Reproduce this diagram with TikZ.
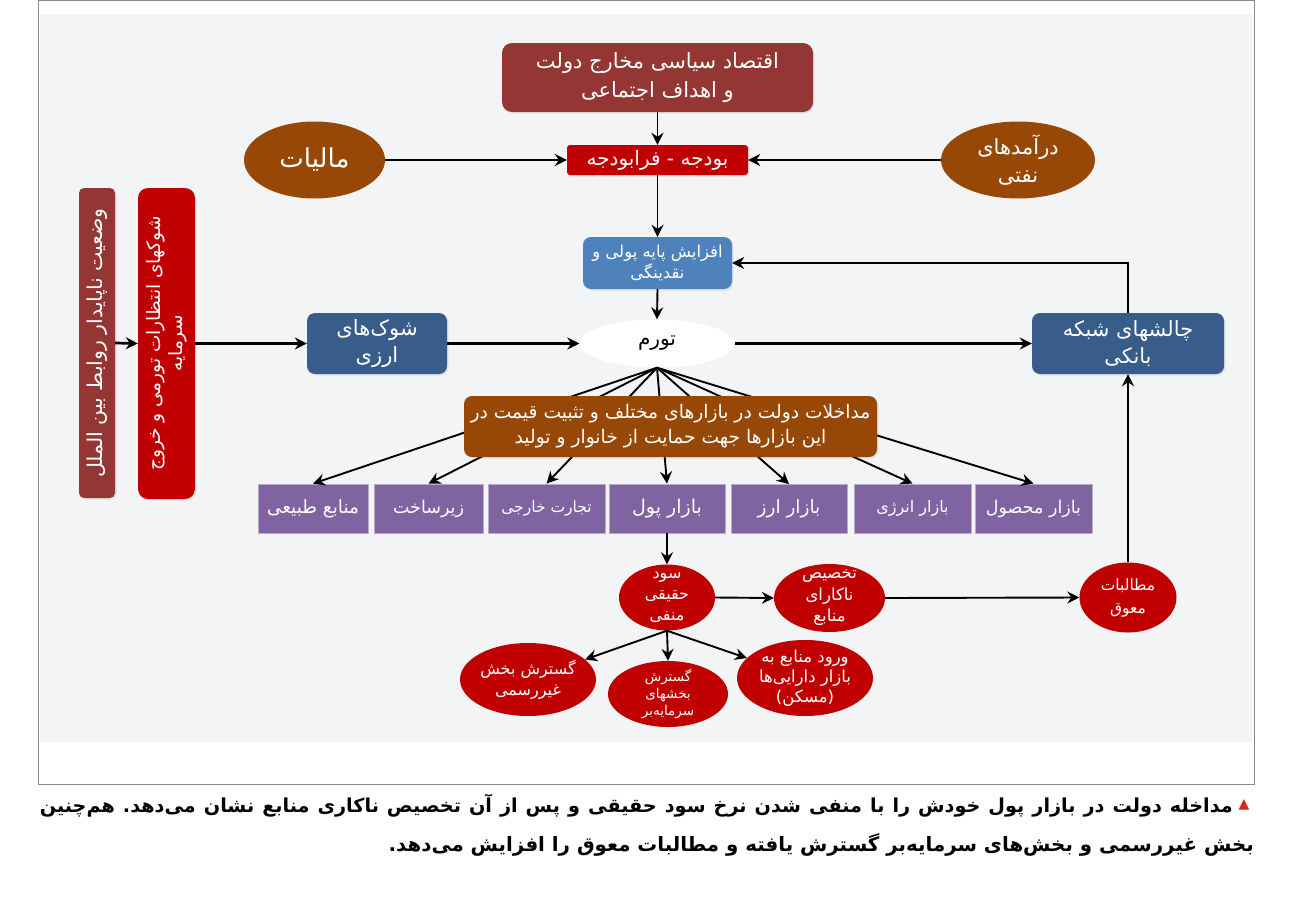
\documentclass[tikz,border=0pt]{standalone}
\usepackage{fontspec}
\setmainfont{DejaVu Sans}
\newfontfamily\arabicfont[Script=Arabic]{DejaVu Sans}
\TeXXeTstate=1
\frenchspacing
\usetikzlibrary{arrows.meta,shapes.geometric,shadows}
\newcommand{\FA}[1]{{\arabicfont\beginR #1\endR}}
\definecolor{cDarkRed}{HTML}{943634}
\definecolor{cRed}{HTML}{C00000}
\definecolor{cBrown}{HTML}{974806}
\definecolor{cBlue}{HTML}{4F81BD}
\definecolor{cNavy}{HTML}{385D8A}
\definecolor{cPurple}{HTML}{8064A2}
\definecolor{cBg}{HTML}{F3F4F6}
\definecolor{cFrame}{HTML}{8A8A8A}
\definecolor{cTri}{HTML}{D9261C}
\begin{document}
\begin{tikzpicture}[x=1pt,y=-1pt,
  box/.style={rectangle, rounded corners=8pt, text=white, inner sep=0pt, align=center,
    drop shadow={opacity=0.15,shadow xshift=1.5pt,shadow yshift=-1.5pt}},
  mkt/.style={rectangle, fill=cPurple, draw=cPurple!55!white, line width=0.8pt, text=white,
    minimum height=49pt, inner sep=0pt},
  oval/.style={ellipse, inner sep=0pt},
  lbl/.style={text=white, align=center, inner sep=0pt},
  arr/.style={-{Stealth[length=12pt,width=12pt,inset=4pt]}, line width=1.9pt},
  tarr/.style={-{Stealth[length=12pt,width=12pt,inset=4pt]}, line width=2.7pt}
]
\useasboundingbox (0,0) rectangle (1293,908);
\fill[white] (0,0) rectangle (1293,908);
\fill[cBg] (40,14) rectangle (1252,742);
\draw[cFrame, line width=0.8pt] (38,0.5) rectangle (1254,784);

% top
\node[box, fill=cDarkRed, rounded corners=10pt, minimum width=311pt, minimum height=69pt,
  font=\fontsize{21}{29}\selectfont] (top) at (657.5,77.5)
  {\FA{اقتصاد سیاسی مخارج دولت}\\\FA{و اهداف اجتماعی}};
\node[box, fill=cRed, rounded corners=3pt, minimum width=181pt, minimum height=30pt,
  font=\fontsize{20}{22}\selectfont] (budget) at (657.5,160) {\FA{بودجه - فرابودجه}};
\node[oval, fill=cBrown, minimum width=141pt, minimum height=77pt] (tax) at (314.5,160) {};
\node[lbl, font=\fontsize{26}{30}\selectfont] at (tax) {\FA{مالیات}};
\node[oval, fill=cBrown, minimum width=154pt, minimum height=77pt] (oil) at (1018,160) {};
\node[lbl, font=\fontsize{21}{28}\selectfont] at (oil) {\FA{درآمدهای}\\\FA{نفتی}};

\node[box, fill=cBlue, minimum width=149pt, minimum height=52pt,
  font=\fontsize{16.5}{21}\selectfont] (base) at (657.5,263) {\FA{افزایش پایه پولی و}\\\FA{نقدینگی}};
\node[oval, fill=white, minimum width=155pt, minimum height=48pt] (tavarom) at (657,343.5) {};
\node[lbl, text=black, font=\fontsize{20}{24}\selectfont] at (tavarom) {\FA{تورم}};

\node[box, fill=cNavy, minimum width=140pt, minimum height=61pt,
  font=\fontsize{21}{27}\selectfont] (shock) at (377,343.5) {\FA{شوک‌های}\\\FA{ارزی}};
\node[box, fill=cNavy, minimum width=192pt, minimum height=61pt,
  font=\fontsize{21}{27}\selectfont] (bank) at (1128,343.5) {\FA{چالشهای شبکه}\\\FA{بانکی}};

\node[box, fill=cDarkRed, rounded corners=5pt, rotate=90, minimum width=310pt, minimum height=36pt,
  font=\fontsize{20.5}{22}\selectfont] (intl) at (97,343) {\FA{وضعیت ناپایدار روابط بین الملل}};
\node[box, fill=cRed, rounded corners=10pt, rotate=90, minimum width=311pt, minimum height=57pt,
  font=\fontsize{18.5}{22}\selectfont] (expect) at (166.5,343.5)
  {\FA{شوکهای انتظارات تورمی و خروج}\\\FA{سرمایه}};

% markets
\node[mkt, minimum width=110pt, font=\fontsize{18.5}{20}\selectfont] (m1) at (313,508.5) {\FA{منابع طبیعی}};
\node[mkt, minimum width=109pt, font=\fontsize{17.5}{20}\selectfont] (m2) at (428.5,508.5) {\FA{زیرساخت}};
\node[mkt, minimum width=117pt, font=\fontsize{15.5}{18}\selectfont] (m3) at (546.5,508.5) {\FA{تجارت خارجی}};
\node[mkt, minimum width=116pt, font=\fontsize{19}{22}\selectfont] (m4) at (667,508.5) {\FA{بازار پول}};
\node[mkt, minimum width=116pt, font=\fontsize{18.5}{22}\selectfont] (m5) at (789,509) {\FA{بازار ارز}};
\node[mkt, minimum width=117pt, font=\fontsize{16}{20}\selectfont] (m6) at (912.5,508.5) {\FA{بازار انرژی}};
\node[mkt, minimum width=117pt, font=\fontsize{17.5}{20}\selectfont] (m7) at (1033.5,508.5) {\FA{بازار محصول}};

\foreach \m in {m1,m2,m3,m4,m5,m6,m7}
  \draw[arr] (tavarom.south) -- (\m.north);

\node[box, fill=cBrown, minimum width=413pt, minimum height=61pt,
  font=\fontsize{18.7}{25}\selectfont] (interv) at (670.5,426.5)
  {\FA{مداخلات دولت در بازارهای مختلف و تثبیت قیمت در}\\\FA{این بازارها جهت حمایت از خانوار و تولید}};

% red ellipses
\node[oval, fill=cRed, minimum width=96pt, minimum height=66pt] (sood) at (667,597.5) {};
\node[lbl, font=\fontsize{16}{21}\selectfont] at (sood) {\FA{سود}\\\FA{حقیقی}\\\FA{منفی}};
\node[oval, fill=cRed, minimum width=111pt, minimum height=68pt] (takhsis) at (829.5,598) {};
\node[lbl, font=\fontsize{16.5}{21.5}\selectfont] at (takhsis) {\FA{تخصیص}\\\FA{ناکارای}\\\FA{منابع}};
\node[oval, fill=cRed, minimum width=97pt, minimum height=70pt] (motal) at (1128,597.5) {};
\node[lbl, font=\fontsize{15.5}{23}\selectfont] at (motal) {\FA{مطالبات}\\\FA{معوق}};
\node[oval, fill=cRed, minimum width=136pt, minimum height=73pt] (g1) at (528,679.5) {};
\node[lbl, font=\fontsize{16}{21}\selectfont] at (g1) {\FA{گسترش بخش}\\\FA{غیررسمی}};
\node[oval, fill=cRed, minimum width=120pt, minimum height=66pt] (g2) at (668,694) {};
\node[lbl, font=\fontsize{13.5}{17}\selectfont] at (g2) {\FA{گسترش}\\\FA{بخشهای}\\\FA{سرمایه‌بر}};
\node[oval, fill=cRed, minimum width=136pt, minimum height=76pt] (g3) at (805,678) {};
\node[lbl, font=\fontsize{16.5}{20}\selectfont] at (g3) {\FA{ورود منابع به}\\\FA{بازار دارایی‌ها}\\\FA{(مسکن)}};

% connectors
\draw[arr] (top.south) -- (budget.north);
\draw[arr] (tax.east) -- (budget.west);
\draw[arr] (oil.west) -- (budget.east);
\draw[arr] (budget.south) -- (base.north);
\draw[arr] (base.south) -- (tavarom.north);
\draw[tarr] (tavarom.east) -- (bank.west);
\draw[tarr] (bank.north) |- (base.east);
\draw[tarr] (shock.east) -- (tavarom.west);
\draw[tarr] (intl.south) -- (expect.north);
\draw[tarr] (expect.south) -- (shock.west);
\draw[arr] (m4.south) -- (sood.north);
\draw[arr] (sood.east) -- (takhsis.west);
\draw[arr] (takhsis.east) -- (motal.west);
\draw[tarr] (motal.north) -- (bank.south);
\draw[arr] (sood.south) -- (g1);
\draw[arr] (sood.south) -- (g2.north);
\draw[arr] (sood.south) -- (g3);

% caption
\node[text=cTri, inner sep=0pt, font=\fontsize{14}{14}\selectfont] (tri) at (1244,805) {▲};
\node[anchor=east, inner sep=0pt, font=\bfseries\fontsize{19.2}{22}\selectfont] (cap1) at (1233,806)
  {\makebox[1193pt][s]{\arabicfont\beginR مداخله دولت در بازار پول خودش را با منفی شدن نرخ سود حقیقی و پس از آن تخصیص ناکاری منابع نشان می‌دهد. هم‌چنین\endR}};
\node[anchor=east, inner sep=0pt, font=\bfseries\fontsize{19.8}{22}\selectfont] (cap2) at (1254,845)
  {\FA{بخش غیررسمی و بخش‌های سرمایه‌بر گسترش یافته و مطالبات معوق را افزایش می‌دهد.}};
\end{tikzpicture}
\end{document}
